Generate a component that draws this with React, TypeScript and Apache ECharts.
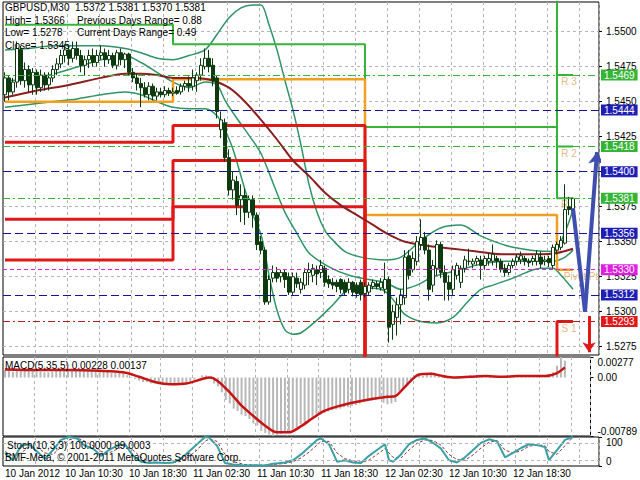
import React, { useEffect, useRef } from "react";
import * as echarts from "echarts";

const FONT = '"Liberation Sans", Arial, sans-serif';

// ---------- header texts ----------
const headerLine1 = "GBPUSD,M30  1.5372 1.5381 1.5370 1.5381";
const headerHigh = "High= 1.5366";
const headerPrevRange = "Previous Days Range= 0.88";
const headerLow = "Low= 1.5278";
const headerCurRange = "Current Days Range= 0.49";
const headerClose = "Close= 1.5345";
const macdTitle = "MACD(5,35,5) 0.00228 0.00137";
const stochTitle = "Stoch(10,3,3) 100.0000 99.0003";
const copyright = "BMF-Meta, \u00a9 2001-2011 MetaQuotes Software Corp.";

// ---------- time axis ----------
const START_UTC = Date.UTC(2012, 0, 10, 3, 0);
const SLOT_COUNT = 149;
const MONTHS = ["Jan", "Feb", "Mar", "Apr", "May", "Jun", "Jul", "Aug", "Sep", "Oct", "Nov", "Dec"];
const pad = (n: number) => String(n).padStart(2, "0");
const categories = Array.from({ length: SLOT_COUNT }, (_, i) => {
  const d = new Date(START_UTC + i * 1800000);
  return i === 0
    ? `${d.getUTCDate()} ${MONTHS[d.getUTCMonth()]} ${d.getUTCFullYear()}`
    : `${d.getUTCDate()} ${MONTHS[d.getUTCMonth()]} ${pad(d.getUTCHours())}:${pad(d.getUTCMinutes())}`;
});
const labelTimes = ["02:30", "10:30", "18:30"];

// ---------- price data: [open, high, low, close] ----------
const candles: number[][] = [
  [1.5455, 1.5471, 1.545, 1.5467], [1.5467, 1.5469, 1.5451, 1.5457], [1.5457, 1.5467, 1.5455, 1.5464],
  [1.5464, 1.5493, 1.546, 1.5488], [1.5487, 1.549, 1.5462, 1.5465], [1.5465, 1.5478, 1.546, 1.5473],
  [1.5473, 1.5476, 1.5457, 1.5462], [1.5462, 1.5474, 1.5455, 1.5471], [1.5471, 1.5473, 1.5455, 1.546],
  [1.546, 1.5473, 1.5457, 1.5469], [1.5469, 1.5471, 1.5458, 1.5462], [1.5462, 1.5471, 1.5458, 1.5467],
  [1.5467, 1.5476, 1.5464, 1.5473], [1.5473, 1.5481, 1.5469, 1.5477], [1.5477, 1.5487, 1.5474, 1.5483],
  [1.5483, 1.5491, 1.5478, 1.5487], [1.5487, 1.549, 1.5476, 1.5481], [1.5481, 1.5493, 1.5478, 1.5488],
  [1.5488, 1.5493, 1.548, 1.5483], [1.5483, 1.5487, 1.5471, 1.5476], [1.5476, 1.5483, 1.5469, 1.548],
  [1.548, 1.5487, 1.5474, 1.5483], [1.5483, 1.5488, 1.5475, 1.5478], [1.5478, 1.5487, 1.5475, 1.5483],
  [1.5483, 1.549, 1.548, 1.5485], [1.5485, 1.5488, 1.5475, 1.548], [1.548, 1.5487, 1.5477, 1.5483],
  [1.5483, 1.5485, 1.5474, 1.5476], [1.5476, 1.5487, 1.5473, 1.5485], [1.5485, 1.5488, 1.5476, 1.548],
  [1.548, 1.5485, 1.5474, 1.5484], [1.5484, 1.5485, 1.5469, 1.5471], [1.5471, 1.5474, 1.5464, 1.5467],
  [1.5467, 1.547, 1.5458, 1.5463], [1.5463, 1.5467, 1.5446, 1.546], [1.546, 1.5464, 1.5453, 1.5455],
  [1.5455, 1.5464, 1.5451, 1.5461], [1.5461, 1.5463, 1.5451, 1.5454], [1.5454, 1.546, 1.5451, 1.5457],
  [1.5457, 1.546, 1.5453, 1.5455], [1.5455, 1.5461, 1.5453, 1.5458], [1.5458, 1.546, 1.5454, 1.5456],
  [1.5456, 1.546, 1.5454, 1.5457], [1.5458, 1.5461, 1.5455, 1.5456], [1.5457, 1.5463, 1.5455, 1.5461],
  [1.5461, 1.5465, 1.5458, 1.5463], [1.5463, 1.5468, 1.5457, 1.5461], [1.5461, 1.5473, 1.5458, 1.5467],
  [1.5465, 1.5471, 1.5457, 1.5469], [1.5469, 1.5481, 1.5465, 1.5476], [1.5475, 1.5488, 1.5473, 1.5481],
  [1.5481, 1.5487, 1.5471, 1.5475], [1.5476, 1.5481, 1.5461, 1.5465], [1.5467, 1.5469, 1.5438, 1.5443],
  [1.543, 1.5443, 1.5424, 1.5437], [1.5435, 1.5438, 1.5407, 1.541], [1.541, 1.5416, 1.5383, 1.5387],
  [1.5387, 1.54, 1.538, 1.5394], [1.5393, 1.5397, 1.5369, 1.5376], [1.538, 1.5391, 1.5364, 1.5383],
  [1.5383, 1.5388, 1.5362, 1.5371], [1.5371, 1.5383, 1.5367, 1.538], [1.538, 1.5383, 1.536, 1.5369],
  [1.5369, 1.5371, 1.5344, 1.5348], [1.535, 1.5354, 1.5341, 1.5344], [1.5344, 1.5346, 1.5305, 1.5307],
  [1.5307, 1.5326, 1.5305, 1.5323], [1.5324, 1.5333, 1.5321, 1.5328], [1.5328, 1.5332, 1.5321, 1.5324],
  [1.5325, 1.533, 1.5321, 1.5328], [1.5328, 1.533, 1.5317, 1.5323], [1.5325, 1.5328, 1.5312, 1.5314],
  [1.5314, 1.5328, 1.5312, 1.5325], [1.5324, 1.5328, 1.5317, 1.532], [1.5316, 1.5324, 1.5313, 1.5321],
  [1.5319, 1.5331, 1.5316, 1.5328], [1.5328, 1.5335, 1.5319, 1.533], [1.5326, 1.5334, 1.5321, 1.5331],
  [1.533, 1.5333, 1.5319, 1.5327], [1.5328, 1.5337, 1.5324, 1.5333], [1.5331, 1.5333, 1.5318, 1.5321],
  [1.5323, 1.5326, 1.5317, 1.532], [1.5321, 1.5324, 1.5316, 1.5319], [1.5321, 1.5323, 1.5314, 1.5318],
  [1.5323, 1.5324, 1.5313, 1.5316], [1.5321, 1.5323, 1.5312, 1.5314], [1.5316, 1.5324, 1.5313, 1.5321],
  [1.5321, 1.5322, 1.5311, 1.5314], [1.5319, 1.5321, 1.531, 1.5313], [1.5321, 1.5323, 1.5308, 1.5312],
  [1.5313, 1.5321, 1.531, 1.5318], [1.5314, 1.5321, 1.5312, 1.5319], [1.5318, 1.5323, 1.5316, 1.5321],
  [1.532, 1.5322, 1.5316, 1.5318], [1.5317, 1.5324, 1.5315, 1.5321], [1.5316, 1.5335, 1.5313, 1.5323],
  [1.5323, 1.5325, 1.5278, 1.5289], [1.5291, 1.5305, 1.528, 1.53], [1.5296, 1.531, 1.5283, 1.5305],
  [1.5305, 1.5316, 1.5291, 1.5312], [1.531, 1.5344, 1.5305, 1.5339], [1.534, 1.5344, 1.5323, 1.5326],
  [1.533, 1.5343, 1.5328, 1.5338], [1.5336, 1.5354, 1.5333, 1.535], [1.5348, 1.5366, 1.5344, 1.5353],
  [1.5353, 1.5357, 1.5341, 1.5344], [1.5344, 1.5348, 1.5308, 1.5316], [1.5319, 1.5337, 1.5314, 1.5333],
  [1.5331, 1.5351, 1.5326, 1.5348], [1.5348, 1.535, 1.5324, 1.5328], [1.5328, 1.5333, 1.5308, 1.5321],
  [1.5321, 1.5326, 1.5308, 1.5316], [1.5316, 1.5333, 1.5312, 1.533], [1.5326, 1.5335, 1.5323, 1.5333],
  [1.5321, 1.5333, 1.5317, 1.5331], [1.5331, 1.534, 1.5328, 1.5337], [1.5336, 1.5345, 1.5333, 1.5336],
  [1.5334, 1.5338, 1.5331, 1.5336], [1.5336, 1.534, 1.5333, 1.5338], [1.5337, 1.534, 1.5323, 1.5333],
  [1.5333, 1.534, 1.533, 1.5338], [1.5336, 1.5342, 1.5333, 1.5338], [1.5336, 1.5348, 1.5333, 1.5341],
  [1.5338, 1.534, 1.5331, 1.5336], [1.5336, 1.5338, 1.5328, 1.533], [1.5331, 1.5334, 1.5325, 1.5328],
  [1.5328, 1.5335, 1.5326, 1.5333], [1.5333, 1.5338, 1.5331, 1.5336], [1.5336, 1.5341, 1.5333, 1.5339],
  [1.5337, 1.5343, 1.5334, 1.534], [1.5338, 1.534, 1.5333, 1.5336], [1.5336, 1.5338, 1.5332, 1.5335],
  [1.5336, 1.534, 1.5333, 1.5338], [1.5336, 1.5344, 1.5333, 1.5341], [1.5339, 1.5343, 1.5331, 1.5334],
  [1.5336, 1.534, 1.5333, 1.5337], [1.5338, 1.534, 1.5332, 1.5335], [1.5333, 1.5348, 1.5331, 1.5346],
  [1.5344, 1.535, 1.5341, 1.5348], [1.5346, 1.5354, 1.5344, 1.5351], [1.5349, 1.5391, 1.5348, 1.5373],
  [1.5375, 1.5382, 1.5369, 1.5373], [1.5372, 1.5381, 1.537, 1.5381],
];

// ---------- overlays [barIndex, value] ----------
const bbUpper = [
  [0, 1.5487], [6, 1.5488], [12, 1.549], [18, 1.549], [24, 1.549], [30, 1.5488], [34, 1.5485], [38, 1.5481],
  [42, 1.548], [46, 1.5483], [50, 1.5487], [53, 1.5498], [56, 1.551], [59, 1.5517], [62, 1.5519], [64, 1.5519],
  [66, 1.5505], [68, 1.5487], [70, 1.5465], [72, 1.5444], [74, 1.5419], [76, 1.5391], [78, 1.5371], [80, 1.5358],
  [82, 1.5351], [85, 1.5343], [89, 1.5339], [95, 1.5337], [99, 1.5339], [104, 1.5351], [109, 1.536], [114, 1.5362],
  [119, 1.5354], [127, 1.5346], [137, 1.5343], [140, 1.5357], [142, 1.5373],
];
const bbMiddle = [
  [0, 1.5465], [8, 1.5467], [16, 1.5473], [24, 1.548], [30, 1.5483], [34, 1.5478], [38, 1.5471], [42, 1.5464],
  [46, 1.546], [50, 1.5464], [53, 1.5462], [55, 1.5451], [58, 1.5438], [61, 1.5426], [64, 1.5413], [67, 1.5392],
  [70, 1.5371], [73, 1.5356], [76, 1.5342], [81, 1.5332], [86, 1.5326], [91, 1.5323], [95, 1.5321], [99, 1.5316],
  [103, 1.5319], [107, 1.5325], [111, 1.5328], [115, 1.5331], [119, 1.5334], [125, 1.5336], [131, 1.5336],
  [137, 1.5336], [140, 1.5339], [142, 1.5344],
];
const bbLower = [
  [0, 1.5446], [6, 1.5448], [12, 1.545], [18, 1.5452], [24, 1.5455], [30, 1.5457], [34, 1.5455], [38, 1.545],
  [42, 1.5446], [46, 1.5445], [50, 1.5445], [53, 1.544], [55, 1.543], [57, 1.5416], [60, 1.5387], [62, 1.5369],
  [64, 1.5355], [65, 1.5342], [66, 1.5326], [68, 1.5301], [70, 1.5287], [72, 1.5284], [74, 1.5285], [78, 1.5294],
  [82, 1.5305], [86, 1.5316], [90, 1.5317], [94, 1.5316], [96, 1.5312], [98, 1.5305], [100, 1.5298], [104, 1.5293],
  [108, 1.5292], [112, 1.5296], [115, 1.5305], [117, 1.5311], [119, 1.5316], [122, 1.5319], [127, 1.5324],
  [134, 1.5331], [137, 1.5331], [139, 1.5326], [142, 1.5316],
];
const movingAvg = [
  [0, 1.5453], [8, 1.5458], [16, 1.5462], [24, 1.5467], [30, 1.547], [34, 1.547], [38, 1.5469], [42, 1.5467],
  [48, 1.5467], [52, 1.5465], [56, 1.546], [60, 1.545], [64, 1.5437], [68, 1.5423], [72, 1.5408], [76, 1.5397],
  [80, 1.5385], [84, 1.5376], [88, 1.5369], [92, 1.5362], [96, 1.5355], [100, 1.535], [106, 1.5347], [112, 1.5345],
  [118, 1.5343], [124, 1.5341], [130, 1.5341], [134, 1.5341], [138, 1.5342], [142, 1.5345],
];

// ---------- daily pivot levels ----------
const dayStarts = [0, 42, 90, 138];
const lastBarIndex = 142;
const pivotP = [1.545, 1.5466, 1.5369, 1.533];
const pivotR1 = [1.5505, 1.5491, 1.5432, 1.5381];
const pivotR2 = [1.5534, 1.5524, 1.5551, 1.5418];
const pivotR3 = [1.5589, 1.5549, 1.5614, 1.5469];
const pivotS1 = [1.5421, 1.5433, 1.525, 1.5293];
const pivotS2 = [1.5366, 1.5408, 1.5187, 1.5242];
const pivotS3 = [1.5337, 1.5375, 1.5068, 1.5205];

const resistanceLevels = [1.5469, 1.5418, 1.5381];
const midLevels = [1.5444, 1.54, 1.5356, 1.5312];
const pivotLevels = [1.533];
const supportLevels = [1.5293];
const pivotTags = [
  { name: "R 3", value: [141, 1.5469] },
  { name: "R 2", value: [141, 1.5418] },
  { name: "R 1", value: [141, 1.5381] },
  { name: "Pivot Pt", value: [144, 1.533] },
  { name: "S 1", value: [141, 1.5293] },
];

// forecast arrows
const blueDown = [[142, 1.5374], [145, 1.53]];
const blueUp = [[145, 1.53], [148, 1.5414]];
const redDown = [[146, 1.5297], [146, 1.5271]];

// ---------- price axis ----------
const PRICE_MIN = 1.52691;
const PRICE_MAX = 1.55212;
const priceTicks = [1.5275, 1.53, 1.5325, 1.535, 1.5375, 1.54, 1.5425, 1.545, 1.5475, 1.55];

// ---------- MACD ----------
const macdMain = [
  0.001, 0.0009, 0.0008, 0.0012, 0.0011, 0.0011, 0.0009, 0.0009, 0.0008, 0.0008,
  0.0007, 0.0007, 0.0008, 0.0009, 0.0011, 0.0012, 0.0011, 0.0012, 0.0011, 0.0009,
  0.0009, 0.0009, 0.0008, 0.0008, 0.0009, 0.0008, 0.0008, 0.0006, 0.0007, 0.0006,
  0.0006, 0.0003, 0.0001, -0.0002, -0.0004, -0.0006, -0.0006, -0.0008, -0.0008, -0.0009,
  -0.0009, -0.0009, -0.0009, -0.0009, -0.0008, -0.0007, -0.0007, -0.0005, -0.0003, 0.0,
  0.0003, 0.0003, 0.0, -0.0008, -0.0012, -0.002, -0.003, -0.0035, -0.0042, -0.0045,
  -0.005, -0.0052, -0.0056, -0.0062, -0.0065, -0.0072, -0.0075, -0.0077, -0.00789, -0.0077,
  -0.0076, -0.0075, -0.0072, -0.007, -0.0067, -0.0063, -0.006, -0.0057, -0.0054, -0.005,
  -0.005, -0.0048, -0.0046, -0.0044, -0.0043, -0.0042, -0.004, -0.004, -0.0038, -0.0037,
  -0.0035, -0.0033, -0.0032, -0.0031, -0.003, -0.0028, -0.0034, -0.0036, -0.0035, -0.0033,
  -0.0018, -0.0014, -0.0009, -0.0004, 0.0002, 0.0004, 0.0002, 0.0004, 0.0007, 0.0005,
  0.0002, -0.0001, -0.0001, 0.0, 0.0001, 0.0002, 0.0002, 0.0002, 0.0003, 0.0002,
  0.0002, 0.0002, 0.0003, 0.0002, 0.0001, 0.0, 0.0, 0.0001, 0.0002, 0.0002,
  0.0002, 0.0001, 0.0002, 0.0002, 0.0001, 0.0001, 0.0001, 0.0003, 0.0005, 0.0007,
  0.0016, 0.00277, 0.00228,
];
const macdSignal = [
  [0, 0.0011], [8, 0.001], [16, 0.001], [24, 0.0009], [30, 0.0007], [34, 0.0001], [38, -0.0006], [42, -0.0009],
  [46, -0.0008], [50, -0.0002], [52, 0.0], [54, -0.0005], [57, -0.002], [60, -0.0038], [63, -0.0052],
  [66, -0.0065], [69, -0.0074], [72, -0.0074], [75, -0.0066], [78, -0.0055], [81, -0.0045], [85, -0.0038],
  [89, -0.0033], [93, -0.0029], [97, -0.0026], [99, -0.0025], [101, -0.0015], [103, -0.0004], [105, 0.0004],
  [108, 0.0005], [111, 0.0002], [114, 0.0], [118, 0.0001], [122, 0.0002], [126, 0.0001], [130, 0.0002],
  [134, 0.0002], [137, 0.0002], [140, 0.0006], [142, 0.00137],
];
const MACD_MIN = -0.00789;
const MACD_MAX = 0.00277;

// ---------- Stochastic ----------
const stochMain = [
  [0, 45], [2, 20], [4, 70], [6, 75], [8, 50], [10, 25], [12, 55], [14, 90], [16, 100], [18, 95], [20, 70],
  [22, 60], [24, 35], [26, 55], [28, 70], [30, 75], [32, 35], [34, 15], [36, 10], [38, 12], [40, 10], [42, 12],
  [44, 25], [46, 50], [48, 75], [50, 100], [51, 98], [53, 70], [55, 10], [57, 5], [60, 2], [63, 3], [65, 2],
  [67, 8], [70, 12], [72, 20], [74, 40], [76, 65], [78, 90], [79, 95], [81, 75], [83, 15], [85, 20], [87, 12],
  [89, 10], [91, 35], [93, 55], [95, 75], [96, 20], [97, 15], [99, 40], [101, 75], [103, 90], [105, 95],
  [107, 80], [109, 60], [111, 20], [113, 12], [115, 30], [117, 55], [119, 80], [121, 92], [123, 85], [125, 30],
  [127, 45], [129, 62], [131, 75], [133, 72], [135, 65], [136, 20], [138, 55], [140, 90], [142, 100],
];
const stochSignal = [
  [0, 50], [2, 35], [4, 45], [6, 65], [8, 65], [10, 45], [12, 40], [14, 65], [16, 90], [18, 97], [20, 85],
  [22, 70], [24, 50], [26, 45], [28, 58], [30, 70], [32, 55], [34, 30], [36, 15], [38, 12], [40, 11], [42, 11],
  [44, 16], [46, 32], [48, 55], [50, 85], [51, 93], [53, 85], [55, 40], [57, 15], [60, 5], [63, 3], [65, 3],
  [67, 5], [70, 9], [72, 15], [74, 28], [76, 48], [78, 72], [79, 85], [81, 85], [83, 45], [85, 25], [87, 18],
  [89, 13], [91, 20], [93, 40], [95, 60], [96, 45], [97, 30], [99, 28], [101, 55], [103, 78], [105, 90],
  [107, 88], [109, 72], [111, 40], [113, 22], [115, 20], [117, 38], [119, 62], [121, 82], [123, 88], [125, 55],
  [127, 45], [129, 52], [131, 68], [133, 73], [135, 70], [136, 50], [138, 40], [140, 70], [142, 99.0003],
];
const stochLevels = [20, 80];

// ---------- colours ----------
const C = {
  grid: "#b4b4b4",
  bull: "#ffffff",
  candleLine: "#0e3a10",
  bb: "#2f9466",
  ma: "#8b1e1e",
  orange: "#f0a020",
  green: "#35b535",
  red: "#e01818",
  blue: "#14149a",
  blueBox: "#1e1eb4",
  magenta: "#e020e0",
  supportLine: "#b02222",
  arrowBlue: "#3e4fb0",
  tag: "#dba860",
};

function stepLine(levels: number[]) {
  const pts = dayStarts.map((b, k) => [b, levels[k]]);
  pts.push([lastBarIndex, levels[levels.length - 1]]);
  return pts;
}

function levelMark(v: number, lineColor: string, boxColor: string, dash: number[]) {
  return {
    yAxis: v,
    lineStyle: { color: lineColor, type: dash, width: 1 },
    label: {
      show: true,
      position: "end",
      distance: 2,
      formatter: v.toFixed(4),
      color: "#ffffff",
      backgroundColor: boxColor,
      padding: [1, 3, 0, 3],
      fontSize: 10,
      fontFamily: FONT,
    },
  };
}

export default function App() {
  const ref = useRef<HTMLDivElement>(null);

  useEffect(() => {
    if (!ref.current) return;
    const chart = echarts.init(ref.current, null, { renderer: "svg" });

    const splitEvery = (index: number) => index > 0 && index % 8 === 0;
    const xBase = (g: number) => ({
      type: "category",
      gridIndex: g,
      data: categories,
      boundaryGap: true,
      axisLine: { show: false },
      axisTick: { show: false },
      axisLabel: { show: false },
      splitLine: { show: true, interval: splitEvery, lineStyle: { color: C.grid, type: [3, 3], width: 1 } },
    });

    const lineS = (data: any, color: string, width: number, extra: any = {}) => ({
      type: "line",
      xAxisIndex: 0,
      yAxisIndex: 0,
      data,
      showSymbol: false,
      symbol: "none",
      lineStyle: { color, width },
      silent: true,
      ...extra,
    });

    const markData = [
      ...resistanceLevels.map((v) => levelMark(v, C.green, C.green, [7, 3, 2, 3])),
      ...midLevels.map((v) => levelMark(v, C.blue, C.blueBox, [8, 4])),
      ...pivotLevels.map((v) => levelMark(v, C.magenta, C.magenta, [4, 3])),
      ...supportLevels.map((v) => levelMark(v, C.supportLine, C.red, [7, 3, 2, 3])),
    ];

    const option: any = {
      animation: false,
      backgroundColor: "#ffffff",
      textStyle: { fontFamily: FONT },
      grid: [
        { left: 3, right: 41, top: 2, height: 353, show: true, borderColor: "#000", borderWidth: 1 },
        { left: 3, right: 41, top: 357, height: 79, show: true, borderColor: "#000", borderWidth: 1 },
        { left: 3, right: 41, top: 437, height: 29, show: true, borderColor: "#000", borderWidth: 1 },
      ],
      xAxis: [
        xBase(0),
        xBase(1),
        {
          ...xBase(2),
          axisLabel: {
            show: true,
            interval: (i: number) =>
              i === 0 || (i <= lastBarIndex && labelTimes.some((t) => categories[i].endsWith(t))),
            align: "left",
            margin: 2,
            color: "#000",
            fontSize: 10,
            fontFamily: FONT,
          },
        },
      ],
      yAxis: [
        {
          type: "value",
          gridIndex: 0,
          position: "right",
          min: PRICE_MIN,
          max: PRICE_MAX,
          axisLine: { show: false },
          axisTick: { show: true, length: 3, lineStyle: { color: "#000" }, customValues: priceTicks },
          axisLabel: {
            customValues: priceTicks,
            formatter: (v: number) => v.toFixed(4),
            color: "#000",
            fontSize: 10,
            margin: 7,
            fontFamily: FONT,
          },
          splitLine: { show: true, lineStyle: { color: C.grid, type: [3, 3], width: 1 } },
        },
        {
          type: "value",
          gridIndex: 1,
          position: "right",
          min: MACD_MIN,
          max: MACD_MAX,
          axisLine: { show: false },
          axisTick: { show: true, length: 3, lineStyle: { color: "#000" }, customValues: [MACD_MIN, 0, MACD_MAX] },
          axisLabel: {
            customValues: [MACD_MIN, 0, MACD_MAX],
            formatter: (v: number) => (Math.abs(v) < 1e-9 ? "0.00" : v.toFixed(5)),
            showMinLabel: true,
            showMaxLabel: true,
            verticalAlignMinLabel: "bottom",
            verticalAlignMaxLabel: "top",
            color: "#000",
            fontSize: 10,
            margin: 7,
            fontFamily: FONT,
          },
          splitLine: { show: false },
        },
        {
          type: "value",
          gridIndex: 2,
          position: "right",
          min: 0,
          max: 100,
          axisLine: { show: false },
          axisTick: { show: true, length: 3, lineStyle: { color: "#000" }, customValues: [0, 20, 80, 100] },
          axisLabel: {
            customValues: [0, 20, 80, 100],
            formatter: (v: number) => String(v),
            showMinLabel: true,
            showMaxLabel: true,
            verticalAlignMinLabel: "bottom",
            verticalAlignMaxLabel: "top",
            color: "#000",
            fontSize: 10,
            margin: 7,
            fontFamily: FONT,
          },
          splitLine: { show: false },
        },
      ],
      series: [
        lineS(bbUpper, C.bb, 1.5, {
          smooth: 0.3,
          z: 1,
          markLine: {
            silent: true,
            precision: 5,
            symbol: ["none", "none"],
            animation: false,
            data: markData,
          },
        }),
        lineS(bbMiddle, C.bb, 1.5, { smooth: 0.3, z: 1 }),
        lineS(bbLower, C.bb, 1.5, { smooth: 0.3, z: 1 }),
        lineS(stepLine(pivotR3), C.green, 2, { step: "end", z: 2 }),
        lineS(stepLine(pivotR2), C.green, 2, { step: "end", z: 2 }),
        lineS(stepLine(pivotR1), C.green, 2, { step: "end", z: 2 }),
        lineS(stepLine(pivotP), C.orange, 2.5, { step: "end", z: 2 }),
        lineS(stepLine(pivotS1), C.red, 3, { step: "end", z: 2 }),
        lineS(stepLine(pivotS2), C.red, 3, { step: "end", z: 2 }),
        lineS(stepLine(pivotS3), C.red, 3, { step: "end", z: 2 }),
        lineS(movingAvg, C.ma, 2, { smooth: 0.3, z: 3 }),
        {
          type: "scatter",
          xAxisIndex: 0,
          yAxisIndex: 0,
          data: pivotTags,
          symbol: "circle",
          symbolSize: 1,
          itemStyle: { color: "rgba(0,0,0,0)" },
          silent: true,
          z: 3,
          label: {
            show: true,
            position: "bottom",
            distance: 1,
            formatter: "{b}",
            color: C.tag,
            fontSize: 10,
            fontFamily: FONT,
          },
        },
        {
          type: "candlestick",
          xAxisIndex: 0,
          yAxisIndex: 0,
          barWidth: 3,
          silent: true,
          z: 4,
          data: candles.map(([o, h, l, c]) => [o, c, l, h]),
          itemStyle: {
            color: C.bull,
            color0: C.candleLine,
            borderColor: C.candleLine,
            borderColor0: C.candleLine,
            borderWidth: 1,
          },
        },
        {
          type: "lines",
          coordinateSystem: "cartesian2d",
          xAxisIndex: 0,
          yAxisIndex: 0,
          silent: true,
          z: 5,
          symbol: ["none", "none"],
          lineStyle: { color: C.arrowBlue, width: 4, opacity: 1, curveness: 0 },
          data: [{ coords: blueDown }],
        },
        {
          type: "lines",
          coordinateSystem: "cartesian2d",
          xAxisIndex: 0,
          yAxisIndex: 0,
          silent: true,
          z: 5,
          symbol: ["none", "arrow"],
          symbolSize: 12,
          lineStyle: { color: C.arrowBlue, width: 4, opacity: 1, curveness: 0 },
          data: [{ coords: blueUp }],
        },
        {
          type: "lines",
          coordinateSystem: "cartesian2d",
          xAxisIndex: 0,
          yAxisIndex: 0,
          silent: true,
          z: 5,
          symbol: ["none", "arrow"],
          symbolSize: 10,
          lineStyle: { color: C.red, width: 3, opacity: 1, curveness: 0 },
          data: [{ coords: redDown }],
        },
        {
          type: "bar",
          xAxisIndex: 1,
          yAxisIndex: 1,
          data: macdMain,
          barWidth: 2,
          silent: true,
          itemStyle: { color: "#b8b8b8" },
        },
        {
          type: "line",
          xAxisIndex: 1,
          yAxisIndex: 1,
          data: macdSignal,
          showSymbol: false,
          symbol: "none",
          smooth: 0.3,
          silent: true,
          lineStyle: { color: "#c81414", width: 2.5 },
          z: 3,
        },
        {
          type: "line",
          xAxisIndex: 2,
          yAxisIndex: 2,
          data: stochSignal,
          showSymbol: false,
          symbol: "none",
          silent: true,
          lineStyle: { color: "#8a3a3a", width: 1, type: [3, 2] },
          markLine: {
            silent: true,
            symbol: ["none", "none"],
            label: { show: false },
            lineStyle: { color: C.grid, type: [3, 3], width: 1 },
            data: stochLevels.map((v) => ({ yAxis: v })),
          },
        },
        {
          type: "line",
          xAxisIndex: 2,
          yAxisIndex: 2,
          data: stochMain,
          showSymbol: false,
          symbol: "none",
          silent: true,
          lineStyle: { color: "#38a0a6", width: 2 },
          z: 3,
        },
      ],
      graphic: [
        { type: "text", left: 5, top: 2, z: 10, style: { text: headerLine1, fill: "#000", font: `10px ${FONT}` } },
        { type: "text", left: 5, top: 15, z: 10, style: { text: headerHigh, fill: "#000", font: `10px ${FONT}` } },
        { type: "text", left: 77, top: 15, z: 10, style: { text: headerPrevRange, fill: "#000", font: `10px ${FONT}` } },
        { type: "text", left: 5, top: 27, z: 10, style: { text: headerLow, fill: "#000", font: `10px ${FONT}` } },
        { type: "text", left: 77, top: 27, z: 10, style: { text: headerCurRange, fill: "#000", font: `10px ${FONT}` } },
        { type: "text", left: 5, top: 40, z: 10, style: { text: headerClose, fill: "#000", font: `10px ${FONT}` } },
        { type: "text", left: 5, top: 360, z: 10, style: { text: macdTitle, fill: "#000", font: `10px ${FONT}` } },
        { type: "text", left: 7, top: 440, z: 10, style: { text: stochTitle, fill: "#000", font: `10px ${FONT}` } },
        { type: "text", left: 5, top: 452, z: 10, style: { text: copyright, fill: "#000", font: `10px ${FONT}` } },
      ],
    };

    chart.setOption(option);
    return () => chart.dispose();
  }, []);

  return (
    <div
      ref={ref}
      style={{ position: "fixed", left: 0, top: 0, width: 640, height: 480, background: "#fff" }}
    />
  );
}
